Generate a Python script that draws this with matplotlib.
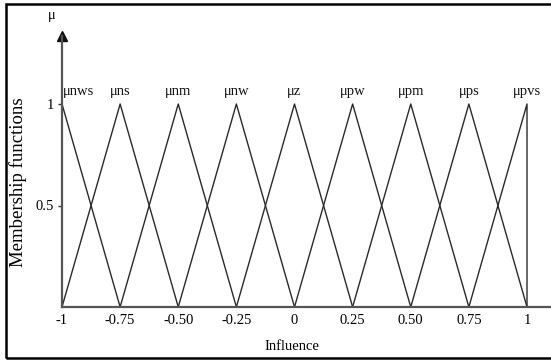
import numpy as np
import matplotlib
matplotlib.use("Agg")
import matplotlib.pyplot as plt
from matplotlib.patches import Rectangle

plt.rcParams['font.family'] = ['Liberation Serif', 'DejaVu Serif']

# membership function names and their peak positions
names = ["\u03bcnws", "\u03bcns", "\u03bcnm", "\u03bcnw", "\u03bcz",
         "\u03bcpw", "\u03bcpm", "\u03bcps", "\u03bcpvs"]
peaks = [-1, -0.75, -0.5, -0.25, 0, 0.25, 0.5, 0.75, 1]
half_width = 0.25
xtick_vals = [-1, -0.75, -0.5, -0.25, 0, 0.25, 0.5, 0.75, 1]
xtick_labels = ["-1", "-0.75", "-0.50", "-0.25", "0", "0.25", "0.50", "0.75", "1"]
ytick_vals = [0.5, 1]
ytick_labels = ["0.5", "1"]

W, H = 551, 360
fig = plt.figure(figsize=(W / 100, H / 100), dpi=100)

# axes placement in pixels
x0, x1 = 62, 551      # x = -1 at 62 px
y0, ytop = 307, 36    # y = 0 at 307 px
px_per_x = (527 - 62) / 2.0
px_per_y = (307 - 104) / 1.0
ax = fig.add_axes([x0 / W, (H - y0) / H, (x1 - x0) / W, (y0 - ytop) / H])
ax.set_xlim(-1, -1 + (x1 - x0) / px_per_x)
ax.set_ylim(0, (y0 - ytop) / px_per_y)

line_col = '#2a2a2a'
for i, (name, p) in enumerate(zip(names, peaks)):
    if i == 0:
        xs, ys = [p, p + half_width], [1, 0]
    elif i == len(peaks) - 1:
        xs, ys = [p - half_width, p, p], [0, 1, 0]
    else:
        xs, ys = [p - half_width, p, p + half_width], [0, 1, 0]
    ax.plot(xs, ys, color=line_col, lw=1.0, clip_on=False)
    ha = 'left' if i == 0 else 'center'
    ax.text(p + (0.003 if i == 0 else 0), 1.044, name, ha=ha, va='baseline',
            fontsize=10.5, color='#111')

for s in ['top', 'right']:
    ax.spines[s].set_visible(False)
for s in ['left', 'bottom']:
    ax.spines[s].set_color('#555')
    ax.spines[s].set_linewidth(1.6)

# arrow head on the y axis
ax.plot(-1, 1, marker='^', color='#111', markersize=6.5,
        transform=ax.get_xaxis_transform(), clip_on=False)

ax.set_xticks(xtick_vals)
ax.set_xticklabels(xtick_labels, fontsize=10.5)
ax.set_yticks(ytick_vals)
ax.set_yticklabels(ytick_labels, fontsize=10.5)
ax.tick_params(axis='x', length=0, pad=5)
ax.tick_params(axis='y', length=3, width=1, pad=3, color='#333')

fig.text(52 / W, 1 - 15 / H, "\u03bc", ha='center', va='center', fontsize=10.5)
fig.text(292 / W, 1 - 346 / H, "Influence", ha='center', va='center', fontsize=10.5)
fig.text(18 / W, 1 - 182 / H, "Membership functions", ha='center', va='center',
         rotation=90, fontsize=13.5)

# frame around the picture (cut off at the right edge)
fig.patches.append(Rectangle((6 / W, 1 - 358 / H), 1.2, (358 - 4) / H,
                             transform=fig.transFigure, fill=False,
                             edgecolor='black', lw=1.8))

fig.savefig("out.png", dpi=100)
